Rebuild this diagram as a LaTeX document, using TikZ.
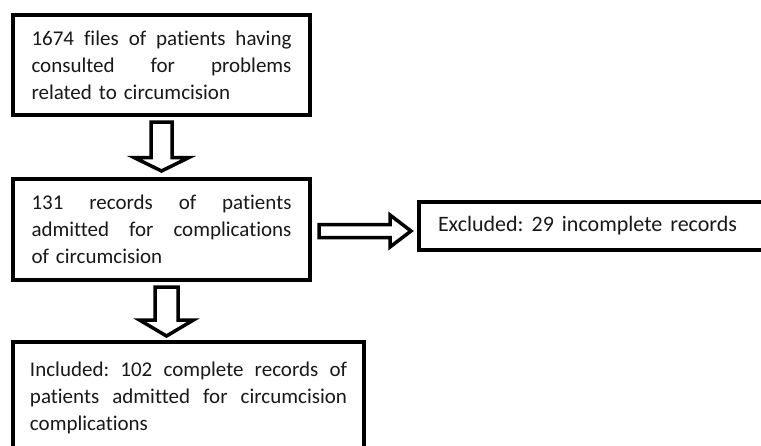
\documentclass[tikz,border=0pt]{standalone}
\usepackage{fontspec}
\setmainfont{Carlito}[Ligatures=NoCommon]
\usepackage{tikz}
\usetikzlibrary{calc, positioning}

\newlength{\linew}
\setlength{\linew}{260pt}
\newcommand{\fullline}[2][\linew]{\makebox[#1][s]{\spaceskip=.226em plus 1fil minus .1em\relax #2}}
% hollow block arrow: tail, tip, half shaft, half head, head length
\newcommand{\blockarrow}[5]{%
  \path (#1) coordinate (ba) (#2) coordinate (bb);
  \path ($(bb)!#5!(ba)$) coordinate (bh);
  \draw[blockarrow] ($(ba)!#3!90:(bb)$) -- ($(bh)!#3!90:(bb)$) -- ($(bh)!#4!90:(bb)$)
    -- (bb) -- ($(bh)!#4!-90:(bb)$) -- ($(bh)!#3!-90:(bb)$) -- ($(ba)!#3!-90:(bb)$) -- cycle;
}

\begin{document}
\begin{tikzpicture}[x=1pt,y=-1pt,line join=miter,
    box/.style={draw=black,line width=3.5pt,fill=white,rectangle,anchor=north west,
      outer sep=0pt,inner sep=0pt,font=\fontsize{21}{27}\selectfont\frenchspacing,text=black!90},
    blockarrow/.style={draw=black,line width=3.5pt,fill=white}]
  \useasboundingbox (0,0) rectangle (761,445);
  \clip (0,0) rectangle (761,445);
%%
  % Node: files
  \node[box,minimum width=297pt,minimum height=100pt,text width=\linew,align=left] (files) at (13,15)
    {\fullline{1674 files of patients having}\\\fullline{consulted for problems}\\related to circumcision};
  % Node: admitted
  \node[box,minimum width=297pt,minimum height=101pt,text width=\linew,align=left] (admitted) at (13,179)
    {\fullline{131 records of patients}\\\fullline{admitted for complications}\\of circumcision};
  % Node: excluded
  \node[box,minimum width=400pt,minimum height=48pt,text width=362pt,align=left,
    font=\fontsize{22}{27}\selectfont\frenchspacing] (excluded) at (419,202)
    {\fullline[299pt]{Excluded: 29 incomplete records}};
  % Node: included
  \node[box,minimum width=351pt,minimum height=112pt,text width=317pt,align=left] (included) at (13,342)
    {\fullline[317pt]{Included: 102 complete records of}\\\fullline[317pt]{patients admitted for circumcision}\\complications};
%%
  % Edge: files -- admitted
  \blockarrow{$(files.south)+(0,7)$}{$(admitted.north)+(0,-8)$}{10.5pt}{27.5pt}{13.5pt}
  % Edge: admitted -- included
  \blockarrow{$(admitted.south)+(5,7)$}{$(included.north)+(-22,-6)$}{11.5pt}{27pt}{16pt}
  % Edge: admitted -- excluded
  \blockarrow{$(admitted.east)+(9,1.5)$}{$(excluded.west)+(-8,5)$}{6.5pt}{16pt}{21pt}
%
\end{tikzpicture}
\end{document}
